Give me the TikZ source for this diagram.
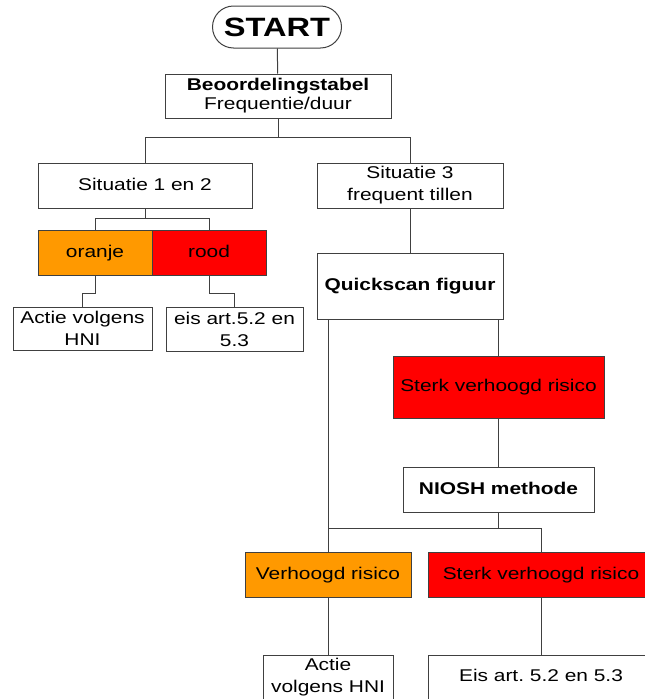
\documentclass[tikz,border=0pt]{standalone}
\usepackage{fontspec}
\setmainfont[FakeStretch=1.23]{Liberation Sans}
\usepackage{tikz}

\begin{document}
\frenchspacing
\begin{tikzpicture}[x=1pt,y=-1pt,
	lijn/.style={draw=black!75, line width=1pt},
	box/.style={draw=black!75, line width=1pt, fill=white, inner sep=0pt, align=center,
		font=\fontsize{17}{22}\selectfont},
	regel/.style={text height=12.5pt, text depth=3.5pt},
	oranjebox/.style={box, regel, fill=oranje},
	roodbox/.style={box, regel, fill=rood}]

	\definecolor{oranje}{HTML}{FF9900}
	\definecolor{rood}{HTML}{FF0000}

	\useasboundingbox (0,0) rectangle (645,699);
	\clip (0,0) rectangle (645,699);

	\node[box, rounded corners=21pt, minimum width=129pt, minimum height=42pt,
		font=\fontsize{26.5}{30}\selectfont\bfseries] (start) at (277,27) {START};
	\node[box, minimum width=226pt, minimum height=44pt, font=\fontsize{17}{19}\selectfont] (beoor) at (278,96) {\textbf{Beoordelingstabel}\\Frequentie/duur};

	\node[box, regel, minimum width=214pt, minimum height=45pt] (sit12) at (145,185.5) {Situatie 1 en 2};
	\node[box, minimum width=186pt, minimum height=45pt] (sit3) at (410,185.5) {Situatie 3\\frequent tillen};

	\node[oranjebox, minimum width=114pt, minimum height=45pt] (oranje) at (95,252.5) {oranje};
	\node[roodbox, minimum width=114pt, minimum height=45pt] (rood) at (209,252.5) {rood};

	\node[box, minimum width=139pt, minimum height=43pt] (actie1) at (82.5,328.5) {Actie volgens\\HNI};
	\node[box, minimum width=137pt, minimum height=44pt] (eis1) at (234.5,329) {eis art.5.2 en\\5.3};

	\node[box, regel, minimum width=186pt, minimum height=66pt, font=\fontsize{17}{22}\selectfont\bfseries] (quick) at (410,286) {Quickscan figuur};
	\node[roodbox, minimum width=211pt, minimum height=62pt] (sterk1) at (498.5,387) {Sterk verhoogd risico};
	\node[box, regel, minimum width=191pt, minimum height=45pt, font=\fontsize{17}{22}\selectfont\bfseries] (niosh) at (498.5,489.5) {NIOSH methode};

	\node[oranjebox, minimum width=166pt, minimum height=45pt] (verh) at (328,574.5) {Verhoogd risico};
	\node[roodbox, minimum width=226pt, minimum height=45pt] (sterk2) at (541,574.5) {Sterk verhoogd risico};

	\node[box, minimum width=130pt, minimum height=44pt] (actie2) at (328,677) {Actie\\volgens HNI};
	\node[box, regel, minimum width=226pt, minimum height=44pt] (eis2) at (541,677) {Eis art. 5.2 en 5.3};

	\coordinate (tak1) at (278,137);
	\coordinate (tak2) at (145,218);
	\coordinate (tak3) at (328,528);

	\draw[lijn] (start) -- (beoor);
	\draw[lijn] (beoor) -- (tak1) -| (sit12);
	\draw[lijn] (tak1) -| (sit3);

	\draw[lijn] (sit12) -- (tak2) -| (oranje);
	\draw[lijn] (tak2) -| (rood);
	\draw[lijn] (oranje.south) -- ++(0,18) -| (actie1.north);
	\draw[lijn] (rood.south) -- ++(0,18) -| (eis1.north);

	\draw[lijn] (sit3) -- (quick);
	\draw[lijn] (quick.south -| verh.north) -- (verh.north);
	\draw[lijn] (quick.south -| sterk1.north) -- (sterk1.north);
	\draw[lijn] (sterk1) -- (niosh);
	\draw[lijn] (niosh) |- (tak3);
	\draw[lijn] (tak3) -| (sterk2);

	\draw[lijn] (verh) -- (actie2);
	\draw[lijn] (sterk2) -- (eis2);

\end{tikzpicture}
\end{document}
